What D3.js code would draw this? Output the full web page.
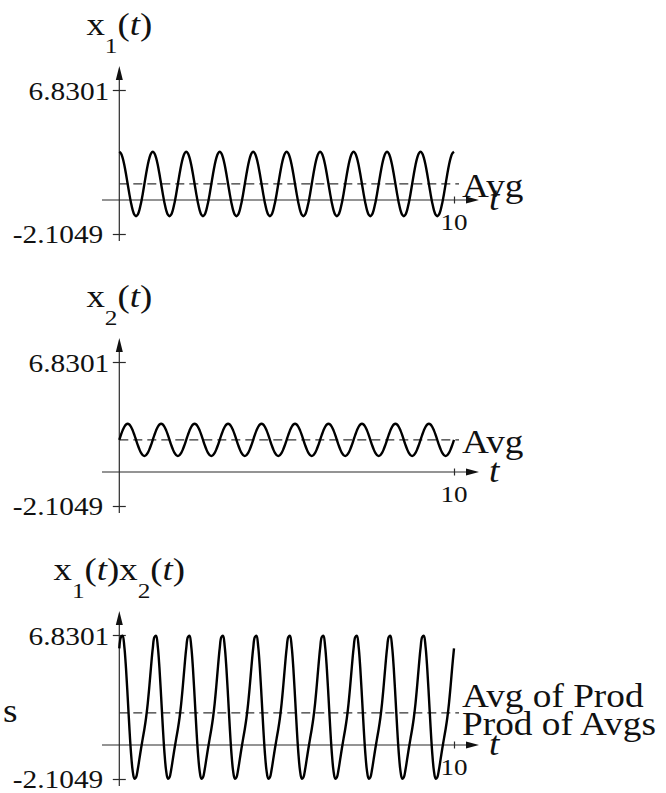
<!DOCTYPE html>
<html>
<head>
<meta charset="utf-8">
<script src="https://cdn.jsdelivr.net/npm/d3@7"></script>
<style>
  html, body { margin: 0; padding: 0; background: #fff; }
  svg { display: block; }
  text { font-family: "Liberation Serif", "Times New Roman", serif; fill: #111; }
</style>
</head>
<body>
<svg id="chart" width="666" height="793"></svg>
<script>
// Samples are taken every tStep along t in [0, 10]
const tStep = 0.05;
const tDomain = [0, 10];
const tTickValues = [10];
const yTickValues = [6.8301, -2.1049];
const yTickLabels = ["6.8301", "-2.1049"];

const x1Values = [
  3, 2.902, 2.618, 2.176, 1.618, 1, 0.382, -0.176, -0.618, -0.902, -1, -0.902, -0.618, -0.176, 0.382, 1, 1.618, 2.176, 2.618, 2.902,
  3, 2.902, 2.618, 2.176, 1.618, 1, 0.382, -0.176, -0.618, -0.902, -1, -0.902, -0.618, -0.176, 0.382, 1, 1.618, 2.176, 2.618, 2.902,
  3, 2.902, 2.618, 2.176, 1.618, 1, 0.382, -0.176, -0.618, -0.902, -1, -0.902, -0.618, -0.176, 0.382, 1, 1.618, 2.176, 2.618, 2.902,
  3, 2.902, 2.618, 2.176, 1.618, 1, 0.382, -0.176, -0.618, -0.902, -1, -0.902, -0.618, -0.176, 0.382, 1, 1.618, 2.176, 2.618, 2.902,
  3, 2.902, 2.618, 2.176, 1.618, 1, 0.382, -0.176, -0.618, -0.902, -1, -0.902, -0.618, -0.176, 0.382, 1, 1.618, 2.176, 2.618, 2.902,
  3, 2.902, 2.618, 2.176, 1.618, 1, 0.382, -0.176, -0.618, -0.902, -1, -0.902, -0.618, -0.176, 0.382, 1, 1.618, 2.176, 2.618, 2.902,
  3, 2.902, 2.618, 2.176, 1.618, 1, 0.382, -0.176, -0.618, -0.902, -1, -0.902, -0.618, -0.176, 0.382, 1, 1.618, 2.176, 2.618, 2.902,
  3, 2.902, 2.618, 2.176, 1.618, 1, 0.382, -0.176, -0.618, -0.902, -1, -0.902, -0.618, -0.176, 0.382, 1, 1.618, 2.176, 2.618, 2.902,
  3, 2.902, 2.618, 2.176, 1.618, 1, 0.382, -0.176, -0.618, -0.902, -1, -0.902, -0.618, -0.176, 0.382, 1, 1.618, 2.176, 2.618, 2.902,
  3, 2.902, 2.618, 2.176, 1.618, 1, 0.382, -0.176, -0.618, -0.902, -1, -0.902, -0.618, -0.176, 0.382, 1, 1.618, 2.176, 2.618, 2.902,
  3
];

const x2Values = [
  2, 2.309, 2.588, 2.809, 2.951, 3, 2.951, 2.809, 2.588, 2.309, 2, 1.691, 1.412, 1.191, 1.049, 1, 1.049, 1.191, 1.412, 1.691,
  2, 2.309, 2.588, 2.809, 2.951, 3, 2.951, 2.809, 2.588, 2.309, 2, 1.691, 1.412, 1.191, 1.049, 1, 1.049, 1.191, 1.412, 1.691,
  2, 2.309, 2.588, 2.809, 2.951, 3, 2.951, 2.809, 2.588, 2.309, 2, 1.691, 1.412, 1.191, 1.049, 1, 1.049, 1.191, 1.412, 1.691,
  2, 2.309, 2.588, 2.809, 2.951, 3, 2.951, 2.809, 2.588, 2.309, 2, 1.691, 1.412, 1.191, 1.049, 1, 1.049, 1.191, 1.412, 1.691,
  2, 2.309, 2.588, 2.809, 2.951, 3, 2.951, 2.809, 2.588, 2.309, 2, 1.691, 1.412, 1.191, 1.049, 1, 1.049, 1.191, 1.412, 1.691,
  2, 2.309, 2.588, 2.809, 2.951, 3, 2.951, 2.809, 2.588, 2.309, 2, 1.691, 1.412, 1.191, 1.049, 1, 1.049, 1.191, 1.412, 1.691,
  2, 2.309, 2.588, 2.809, 2.951, 3, 2.951, 2.809, 2.588, 2.309, 2, 1.691, 1.412, 1.191, 1.049, 1, 1.049, 1.191, 1.412, 1.691,
  2, 2.309, 2.588, 2.809, 2.951, 3, 2.951, 2.809, 2.588, 2.309, 2, 1.691, 1.412, 1.191, 1.049, 1, 1.049, 1.191, 1.412, 1.691,
  2, 2.309, 2.588, 2.809, 2.951, 3, 2.951, 2.809, 2.588, 2.309, 2, 1.691, 1.412, 1.191, 1.049, 1, 1.049, 1.191, 1.412, 1.691,
  2, 2.309, 2.588, 2.809, 2.951, 3, 2.951, 2.809, 2.588, 2.309, 2, 1.691, 1.412, 1.191, 1.049, 1, 1.049, 1.191, 1.412, 1.691,
  2
];

const productValues = [
  6, 6.701, 6.775, 6.112, 4.775, 3, 1.127, -0.494, -1.599, -2.083, -2, -1.525, -0.873, -0.21, 0.401, 1, 1.697, 2.592, 3.697, 4.907,
  6, 6.701, 6.775, 6.112, 4.775, 3, 1.127, -0.494, -1.599, -2.083, -2, -1.525, -0.873, -0.21, 0.401, 1, 1.697, 2.592, 3.697, 4.907,
  6, 6.701, 6.775, 6.112, 4.775, 3, 1.127, -0.494, -1.599, -2.083, -2, -1.525, -0.873, -0.21, 0.401, 1, 1.697, 2.592, 3.697, 4.907,
  6, 6.701, 6.775, 6.112, 4.775, 3, 1.127, -0.494, -1.599, -2.083, -2, -1.525, -0.873, -0.21, 0.401, 1, 1.697, 2.592, 3.697, 4.907,
  6, 6.701, 6.775, 6.112, 4.775, 3, 1.127, -0.494, -1.599, -2.083, -2, -1.525, -0.873, -0.21, 0.401, 1, 1.697, 2.592, 3.697, 4.907,
  6, 6.701, 6.775, 6.112, 4.775, 3, 1.127, -0.494, -1.599, -2.083, -2, -1.525, -0.873, -0.21, 0.401, 1, 1.697, 2.592, 3.697, 4.907,
  6, 6.701, 6.775, 6.112, 4.775, 3, 1.127, -0.494, -1.599, -2.083, -2, -1.525, -0.873, -0.21, 0.401, 1, 1.697, 2.592, 3.697, 4.907,
  6, 6.701, 6.775, 6.112, 4.775, 3, 1.127, -0.494, -1.599, -2.083, -2, -1.525, -0.873, -0.21, 0.401, 1, 1.697, 2.592, 3.697, 4.907,
  6, 6.701, 6.775, 6.112, 4.775, 3, 1.127, -0.494, -1.599, -2.083, -2, -1.525, -0.873, -0.21, 0.401, 1, 1.697, 2.592, 3.697, 4.907,
  6, 6.701, 6.775, 6.112, 4.775, 3, 1.127, -0.494, -1.599, -2.083, -2, -1.525, -0.873, -0.21, 0.401, 1, 1.697, 2.592, 3.697, 4.907,
  6
];

const x1Average = 1;
const x2Average = 2;
const averageOfProduct = 2;
const productOfAverages = 2;

// Title pieces: [text, kind] where kind is "main", "sub" or "ital"
const titleX1 = [["x", "main"], ["1", "sub"], ["(", "main"], ["t", "ital"], [")", "main"]];
const titleX2 = [["x", "main"], ["2", "sub"], ["(", "main"], ["t", "ital"], [")", "main"]];
const titleProduct = [["x", "main"], ["1", "sub"], ["(", "main"], ["t", "ital"], [")", "main"],
                      ["x", "main"], ["2", "sub"], ["(", "main"], ["t", "ital"], [")", "main"]];

const svg = d3.select("#chart");
const STRETCH = 1.13;          // glyphs are drawn slightly wide
const axisColor = "#2a2a2a";

const xScale = d3.scaleLinear().domain(tDomain).range([119.3, 454]);
const axisX = xScale(0);

const panels = [
  { zeroY: 200, values: x1Values, title: titleX1, avg: x1Average,
    labels: [{ text: "Avg", dy: 13 }] },
  { zeroY: 472, values: x2Values, title: titleX2, avg: x2Average,
    labels: [{ text: "Avg", dy: 13 }] },
  { zeroY: 745, values: productValues, title: titleProduct, avg: averageOfProduct,
    labels: [{ text: "Avg of Prod", dy: -6 }, { text: "Prod of Avgs", dy: 22, value: productOfAverages }],
    sideLabel: "s" }
];

function wideText(g, x, y, str, size, anchor) {
  return g.append("text")
    .attr("transform", `translate(${x},${y}) scale(${STRETCH},1)`)
    .attr("text-anchor", anchor || "start")
    .attr("font-size", size)
    .text(str);
}

panels.forEach(p => {
  const g = svg.append("g");
  const y0 = p.zeroY;
  const yScale = d3.scaleLinear()
    .domain([yTickValues[1], yTickValues[0]])
    .range([y0 + 34, y0 - 110]);

  // Title centred over the vertical axis
  const title = g.append("text")
    .attr("transform", `translate(${axisX},${y0 - 165}) scale(1.15,1)`)
    .attr("text-anchor", "middle")
    .attr("font-size", 32);
  let lowered = false;
  p.title.forEach(([s, kind]) => {
    const ts = title.append("tspan").text(s);
    if (kind === "sub") {
      ts.attr("font-size", 22).attr("dy", lowered ? 0 : 18);
      lowered = true;
    } else {
      if (lowered) { ts.attr("dy", -18); lowered = false; }
      if (kind === "ital") ts.attr("font-style", "italic");
    }
  });

  // Vertical axis with arrow head
  g.append("line")
    .attr("x1", axisX).attr("x2", axisX)
    .attr("y1", y0 + 41).attr("y2", y0 - 122)
    .attr("stroke", axisColor).attr("stroke-width", 1.2);
  g.append("path")
    .attr("d", `M${axisX},${y0 - 134} L${axisX - 3.5},${y0 - 120} L${axisX + 3.5},${y0 - 120} Z`)
    .attr("fill", "#111");

  const yAxis = g.append("g")
    .attr("transform", `translate(${axisX},0)`)
    .call(d3.axisLeft(yScale).tickValues(yTickValues).tickSize(6).tickFormat(""));
  yAxis.select(".domain").remove();
  yAxis.selectAll(".tick line")
    .attr("x1", -6.5).attr("x2", 6.5)
    .attr("stroke", axisColor).attr("stroke-width", 1.2);

  yTickValues.forEach((v, i) => {
    const right = v > 0 ? axisX - 10 : axisX - 16;
    const dy = v > 0 ? 10 : 9;
    wideText(g, right, yScale(v) + dy, yTickLabels[i], 26, "end");
  });

  // Horizontal axis with arrow head
  g.append("line")
    .attr("x1", 102).attr("x2", 467)
    .attr("y1", y0).attr("y2", y0)
    .attr("stroke", axisColor).attr("stroke-width", 1.2);
  g.append("path")
    .attr("d", `M479,${y0} L466,${y0 - 3.5} L466,${y0 + 3.5} Z`)
    .attr("fill", "#111");

  const tAxis = g.append("g")
    .attr("transform", `translate(0,${y0})`)
    .call(d3.axisBottom(xScale).tickValues(tTickValues).tickSize(3).tickFormat(""));
  tAxis.select(".domain").remove();
  tAxis.selectAll(".tick line")
    .attr("y1", -3.5).attr("y2", 3.5)
    .attr("stroke", axisColor).attr("stroke-width", 1.2);
  tTickValues.forEach(v => wideText(g, xScale(v), y0 + 30, String(v), 24, "middle"));

  const tLabel = wideText(g, 489, y0 + 10, "t", 33, "start");
  tLabel.attr("font-style", "italic");

  // Dashed average line
  g.append("line")
    .attr("x1", axisX).attr("x2", xScale(10) + 5)
    .attr("y1", yScale(p.avg)).attr("y2", yScale(p.avg))
    .attr("stroke", "#333").attr("stroke-width", 1.2)
    .attr("stroke-dasharray", "9,5");

  // Signal curve
  const line = d3.line()
    .x((d, i) => xScale(i * tStep))
    .y(d => yScale(d))
    .curve(d3.curveCatmullRom);
  g.append("path")
    .datum(p.values)
    .attr("d", line)
    .attr("fill", "none")
    .attr("stroke", "#000")
    .attr("stroke-width", 2.4)
    .attr("stroke-linejoin", "round");

  p.labels.forEach(l => {
    const v = l.value !== undefined ? l.value : p.avg;
    wideText(g, 462, yScale(v) + l.dy, l.text, 33, "start");
  });

  if (p.sideLabel) {
    wideText(g, 3, yScale(p.avg) + 9, p.sideLabel, 33, "start");
  }
});
</script>
</body>
</html>
